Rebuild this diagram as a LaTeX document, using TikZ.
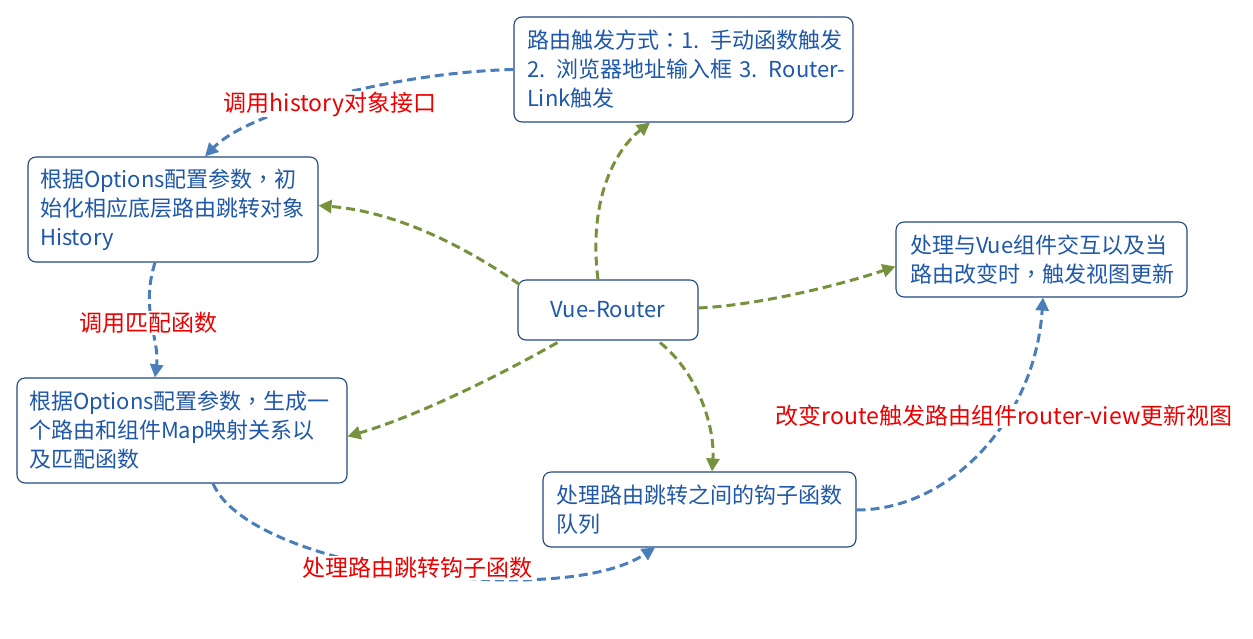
\documentclass[tikz,border=0pt]{standalone}
\usepackage{fontspec}
\setmainfont{Noto Sans CJK SC}
\newfontfamily\tcpunct{Noto Sans CJK TC}
\usetikzlibrary{arrows.meta,calc}
\definecolor{boxline}{RGB}{31,73,125}
\definecolor{boxtext}{RGB}{31,88,168}
\definecolor{grn}{RGB}{118,146,60}
\definecolor{blu}{RGB}{74,126,187}
\definecolor{lab}{RGB}{235,0,0}
\newcommand{\cpunct}[1]{{\tcpunct #1}}
\begin{document}
\begin{tikzpicture}[x=1pt,y=-1pt,
  box/.style={draw=boxline,line width=1.1pt,rounded corners=8pt,fill=white,text=boxtext,
    font=\fontsize{22}{29}\selectfont,align=left,inner ysep=0pt},
  garrow/.style={draw=grn,line width=3pt,dash pattern=on 9pt off 5pt,
    -{Triangle[length=13pt,width=13pt]}},
  barrow/.style={draw=blu,line width=3pt,dash pattern=on 9pt off 5pt,
    -{Triangle[length=13pt,width=13pt]}},
  lbl/.style={text=lab,font=\fontsize{23}{28}\selectfont,fill=white,inner sep=1pt}]
\useasboundingbox[fill=white] (0,0) rectangle (1253,638);

\node[box,minimum width=339pt,minimum height=105pt,inner xsep=13pt,text width=313pt] (trig) at (683.5,69.5)
  {\mbox{路由触发方式\cpunct{：}1. 手动函数触发}\\\mbox{2. 浏览器地址输入框 3. Router-}\\\mbox{Link触发}};
\node[box,minimum width=290pt,minimum height=105pt,inner xsep=12pt,text width=266pt] (hist) at (173,209.5)
  {\mbox{根据Options配置参数\cpunct{，}初}\\\mbox{始化相应底层路由跳转对象}\\\mbox{History}};
\node[box,minimum width=330pt,minimum height=105pt,inner xsep=12pt,text width=306pt] (map) at (182,430.5)
  {\mbox{根据Options配置参数\cpunct{，}生成一}\\\mbox{个路由和组件Map映射关系以}\\\mbox{及匹配函数}};
\node[box,minimum width=180pt,minimum height=60pt,align=center] (vue) at (608,310) {Vue-Router};
\node[box,minimum width=291pt,minimum height=75pt,inner xsep=14pt,text width=263pt] (view) at (1041.5,259.5)
  {\mbox{处理与Vue组件交互以及当}\\\mbox{路由改变时\cpunct{，}触发视图更新}};
\node[box,minimum width=313pt,minimum height=75pt,inner xsep=13pt,text width=287pt] (hook) at (699.5,509.5)
  {\mbox{处理路由跳转之间的钩子函数}\\\mbox{队列}};

% green connectors
\draw[garrow] ($(vue.north)+(-10,0)$) .. controls (588,200) and (615,150) .. ($(trig.south)+(-33.5,0)$);
\draw[garrow] ($(vue.north west)+(2,5)$) .. controls (470,250) and (400,212) .. ($(hist.east)+(0,-4)$);
\draw[garrow] ($(vue.south west)+(40,2)$) .. controls (500,375) and (420,415) .. ($(map.east)+(0,6)$);
\draw[garrow] ($(vue.east)+(0,-2)$) .. controls (760,305) and (840,285) .. ($(view.west)+(0,7)$);
\draw[garrow] ($(vue.south)+(52,2)$) .. controls (700,375) and (715,430) .. ($(hook.north)+(12.5,0)$);

% blue connectors
\draw[barrow] (trig.west) .. controls (400,72) and (250,110) .. ($(hist.north)+(32,0)$);
\draw[barrow] ($(hist.south)+(-18,0)$) .. controls (140,310) and (160,340) .. ($(map.north)+(-27,0)$);
\draw[barrow] ($(map.south)+(31,0)$) .. controls (250,570) and (560,610) .. ($(hook.south)+(-44.5,0)$);
\draw[barrow] ($(hook.east)+(0,0.5)$) .. controls (950,510) and (1035,420) .. ($(view.south)+(1.5,0)$);

% labels
\node[lbl] (l1) at (330,104) {调用history对象接口};
\node[lbl] (l2) at (148,323) {调用匹配函数};
\node[lbl] (l3) at (417,568) {处理路由跳转钩子函数};
\node[lbl] (l4) at (1004,416) {改变route触发路由组件router-view更新视图};
\end{tikzpicture}
\end{document}
